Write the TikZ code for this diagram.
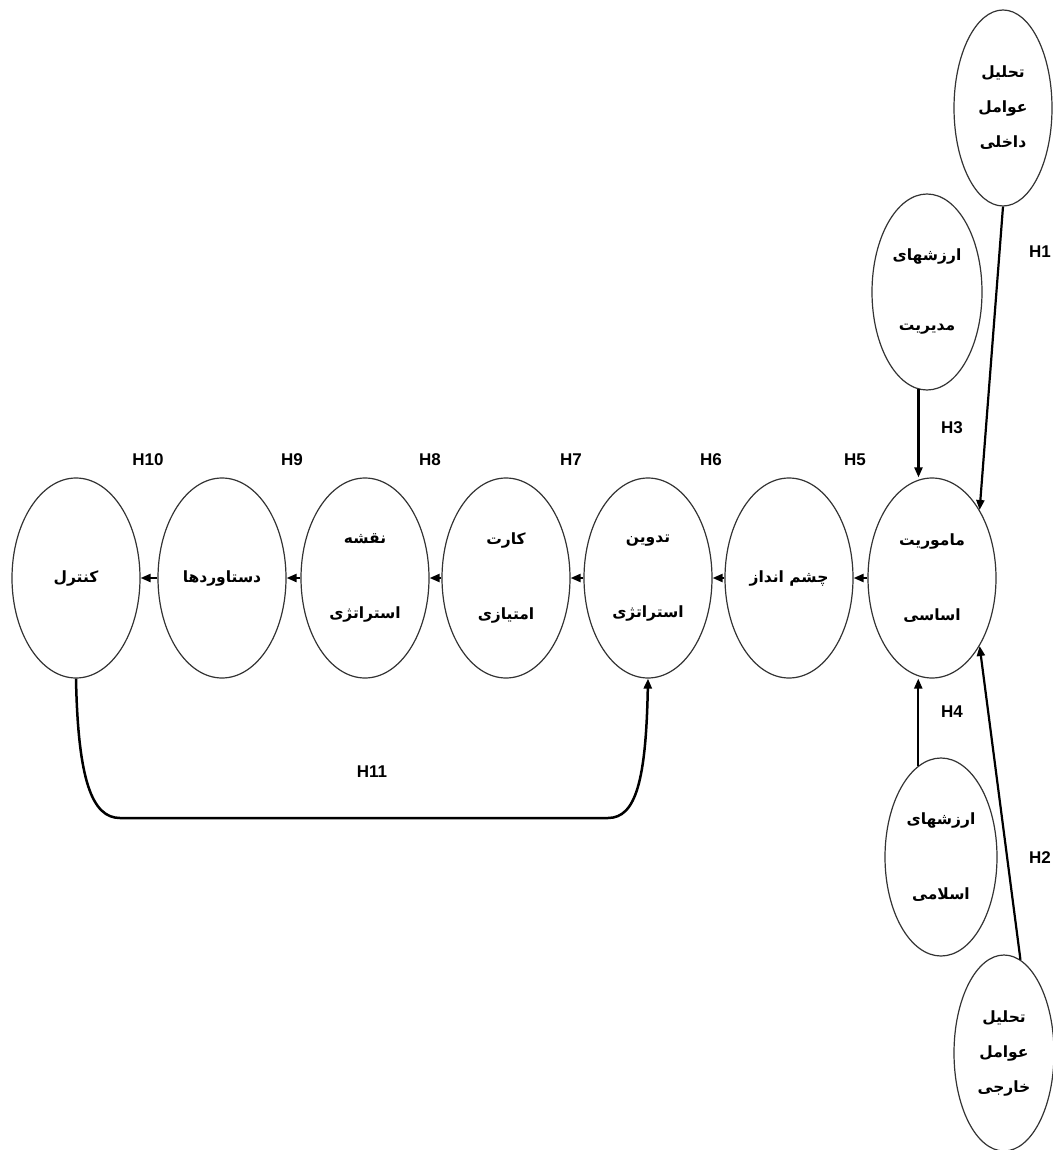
\documentclass[tikz,border=0pt]{standalone}
\usepackage{fontspec}
\setmainfont{Liberation Sans}
\newfontfamily\fa[Script=Arabic]{DejaVu Sans}
\TeXXeTstate=1
\usetikzlibrary{shapes.geometric,arrows.meta}
\newcommand\fl[1]{\beginR #1\endR}
\begin{document}
\begin{tikzpicture}[x=1pt,y=-1pt,
  el/.style={ellipse, draw=black!80, line width=1.2pt, inner sep=0pt, align=center,
     font=\fa\bfseries\fontsize{15.5}{18}\selectfont},
  row/.style={el, minimum width=128pt, minimum height=200pt},
  arr/.style={line width=2.2pt, -{Triangle[length=10pt,width=8pt]}},
  hl/.style={font=\bfseries\fontsize{17}{20}\selectfont, inner sep=0pt}]
\useasboundingbox (0,0) rectangle (1052,1150);
% main row
\node[row] (ctl) at (76,578) {\fl{کنترل}};
\node[row] (dst) at (222,578) {\fl{دستاوردها}};
\node[row] (nqs) at (365,578) {\fl{نقشه}\\[57pt]\fl{استراتژی}};
\node[row] (krt) at (506,578) {\fl{کارت}\\[57pt]\fl{امتیازی}};
\node[row] (tdv) at (648,578) {\fl{تدوین}\\[57pt]\fl{استراتژی}};
\node[row] (che) at (789,578) {\fl{چشم انداز}};
\node[row] (mam) at (932,578) {\fl{ماموریت}\\[57pt]\fl{اساسی}};
% side nodes
\node[el, minimum width=98pt, minimum height=196pt] (dak) at (1003,108) {\fl{تحلیل}\\[17pt]\fl{عوامل}\\[17pt]\fl{داخلی}};
\node[el, minimum width=110pt, minimum height=196pt] (mod) at (927,292) {\fl{ارزشهای}\\[52pt]\fl{مدیریت}};
\node[el, minimum width=112pt, minimum height=198pt] (isl) at (941,857) {\fl{ارزشهای}\\[57pt]\fl{اسلامی}};
\node[el, minimum width=100pt, minimum height=196pt] (khr) at (1004,1053) {\fl{تحلیل}\\[17pt]\fl{عوامل}\\[17pt]\fl{خارجی}};
% arrows
\draw[arr] (dak.south) -- (mam.55);
\draw[arr] (khr.80) -- (mam.-55);
\draw[arr] (mod.265) -- (mod.265 |- mam.north);
\draw[arr] (isl.104) -- (isl.104 |- mam.south);
\draw[arr] (mam.west) -- (che.east);
\draw[arr] (che.west) -- (tdv.east);
\draw[arr] (tdv.west) -- (krt.east);
\draw[arr] (krt.west) -- (nqs.east);
\draw[arr] (nqs.west) -- (dst.east);
\draw[arr] (dst.west) -- (ctl.east);
\coordinate (bl) at (120,818);
\coordinate (br) at (608,818);
\draw[arr, line width=2.5pt] (ctl.south) .. controls (78,780) and (92,818) .. (bl) -- (br)
   .. controls (636,818) and (646,780) .. (tdv.south);
% labels
\node[hl] (h1) at (1040,252) {H1};
\node[hl] (h2) at (1040,858) {H2};
\node[hl] (h3) at (952,428) {H3};
\node[hl] (h4) at (952,712) {H4};
\node[hl] (h5) at (855,460) {H5};
\node[hl] (h6) at (711,460) {H6};
\node[hl] (h7) at (571,460) {H7};
\node[hl] (h8) at (430,460) {H8};
\node[hl] (h9) at (292,460) {H9};
\node[hl] (h10) at (148,460) {H10};
\node[hl] (h11) at (372,772) {H11};
\end{tikzpicture}
\end{document}
